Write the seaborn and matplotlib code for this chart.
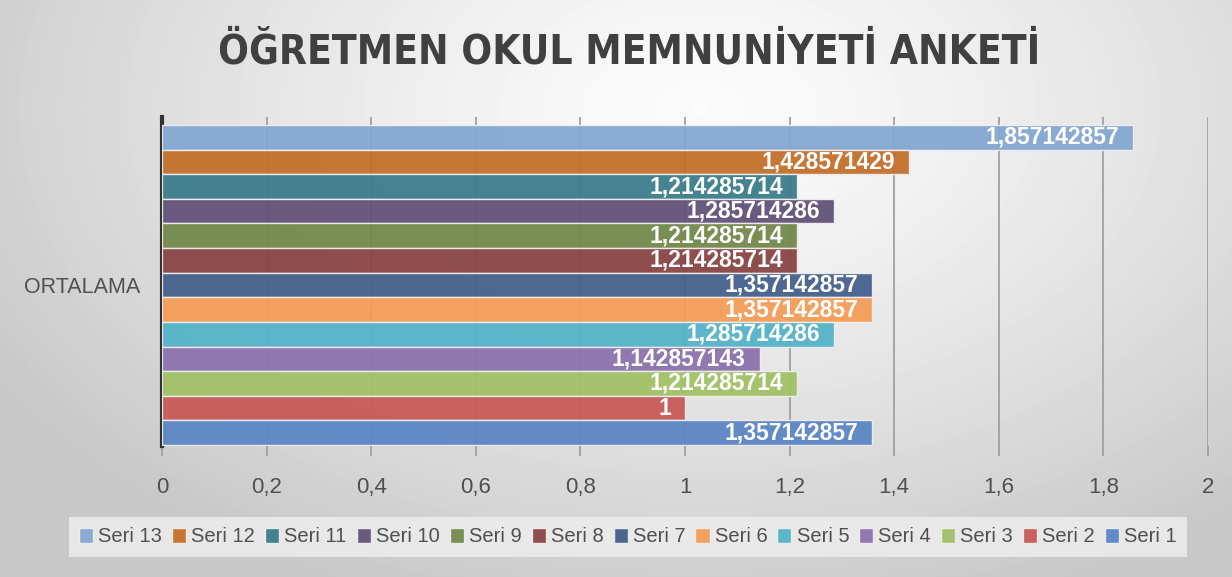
import numpy as np
import pandas as pd
import seaborn as sns
import matplotlib.pyplot as plt
from matplotlib import font_manager
from matplotlib.font_manager import FontProperties
from matplotlib.ticker import FuncFormatter, MultipleLocator

sns.set_theme(style="white")
plt.rcParams['font.family'] = ['Liberation Sans', 'DejaVu Sans']

# a condensed bold face for the title, if one is installed
cond = None
for f in font_manager.fontManager.ttflist:
    fn = f.fname.lower()
    if ('narrow' in fn or 'condensed' in fn) and 'bold' in fn and 'oblique' not in fn and 'italic' not in fn:
        cond = f.fname
        break

# data
category = 'ORTALAMA'
series = ['Seri 1', 'Seri 2', 'Seri 3', 'Seri 4', 'Seri 5', 'Seri 6', 'Seri 7',
          'Seri 8', 'Seri 9', 'Seri 10', 'Seri 11', 'Seri 12', 'Seri 13']
values = [1.357142857, 1.0, 1.214285714, 1.142857143, 1.285714286, 1.357142857,
          1.357142857, 1.214285714, 1.214285714, 1.285714286, 1.214285714,
          1.428571429, 1.857142857]
colors = ['#5b87c5', '#c85a5a', '#a2c167', '#8c72ad', '#55b3c9', '#f59d58', '#44618c',
          '#8a4545', '#72894a', '#645279', '#3c7d8b', '#c4702b', '#84a7d2']

df = pd.DataFrame({'grup': category, 'seri': series, 'deger': values})
order = series[::-1]
pal = dict(zip(series, colors))

W, H = 1232, 577
fig = plt.figure(figsize=(W / 100, H / 100), dpi=100)

# soft radial background like the office chart style
bg = fig.add_axes([0, 0, 1, 1], zorder=-10)
yy, xx = np.mgrid[0:H, 0:W]
d = np.sqrt(((xx - 700) / 820.0) ** 2 + ((yy - 110) / 520.0) ** 2)
shade = 0.985 - 0.20 * np.clip(d, 0, 1) ** 1.3
bg.imshow(shade, cmap='gray', vmin=0, vmax=1, aspect='auto', interpolation='bilinear')
bg.axis('off')

top, bot = 117, 446
ax = fig.add_axes([162 / W, 1 - bot / H, (1208 - 162) / W, (bot - top) / H])
ax.patch.set_alpha(0)
bw = 0.97
sns.barplot(data=df, x='deger', y='grup', hue='seri', hue_order=order, palette=pal,
            orient='h', width=bw, saturation=1, edgecolor='#eeeeee', linewidth=1,
            alpha=0.95, ax=ax, zorder=3)

ax.set_xlim(0, 2)
px = bw / 320
ax.set_ylim(bw / 2 + 1 * px, -bw / 2 - 8 * px)
ax.xaxis.set_major_locator(MultipleLocator(0.2))
ax.xaxis.set_major_formatter(FuncFormatter(lambda v, p: f"{v:g}".replace('.', ',')))
ax.grid(axis='x', color='#a0a0a0', linewidth=1.3, zorder=0)
ax.set_axisbelow(True)
for s in ['top', 'right', 'bottom']:
    ax.spines[s].set_visible(False)
ax.spines['left'].set_color('#333333')
ax.spines['left'].set_linewidth(3)
ax.tick_params(axis='x', bottom=True, length=7, width=1.3, color='#a0a0a0', pad=15,
               labelsize=16, labelcolor='#505050')
ax.tick_params(axis='y', left=False, length=0, pad=16, labelsize=15.5, labelcolor='#505050')
ax.set_xlabel('')
ax.set_ylabel('')

for cont in ax.containers:
    for p in cont.patches:
        v = p.get_width()
        lab = '{:.10g}'.format(v).replace('.', ',')
        ax.annotate(lab, (v, p.get_y() + p.get_height() / 2), xytext=(-14, 0),
                    textcoords='offset pixels', ha='right', va='center',
                    color='white', fontsize=16.5, fontweight='bold', zorder=5)

ax.legend(loc='center', bbox_to_anchor=(628 / W, 1 - 537 / H), bbox_transform=fig.transFigure,
          ncol=13, frameon=True, facecolor='#efefef', edgecolor='none', framealpha=0.8,
          handlelength=0.7, handleheight=0.7, columnspacing=0.5, handletextpad=0.25,
          fontsize=14.5, labelcolor='#505050', borderpad=0.5, fancybox=False)

title = 'ÖĞRETMEN OKUL MEMNUNİYETİ ANKETİ'
if cond:
    tprops = dict(fontproperties=FontProperties(fname=cond, size=40))
else:
    tprops = dict(fontsize=40, fontweight='bold')
t = fig.text(629 / W, 1 - 53 / H, title, ha='center', va='center', color='#404040', **tprops)
# shrink the title to the width it has in the chart
r = fig.canvas.get_renderer()
tw = t.get_window_extent(renderer=r).width
t.set_fontsize(40 * 822 / tw)

fig.savefig('out.png', dpi=100)
